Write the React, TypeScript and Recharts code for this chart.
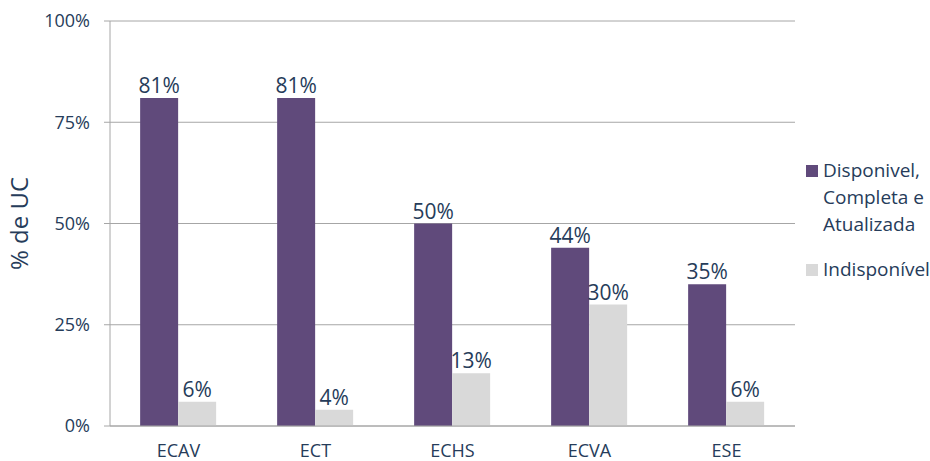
import { BarChart, Bar, XAxis, YAxis, CartesianGrid, Legend, LabelList } from 'recharts';

const categories = ['ECAV', 'ECT', 'ECHS', 'ECVA', 'ESE'];
const disponivel = [81, 81, 50, 44, 35];
const indisponivel = [6, 4, 13, 30, 6];
const yTicks = [0, 25, 50, 75, 100];

const PURPLE = '#604a7b';
const GRAY = '#d9d9d9';
const TEXT = '#263c5a';
const LINE = '#a6a6a6';
const FONT = '"Open Sans", sans-serif';

const data = categories.map((name, i) => ({
  name,
  disponivel: disponivel[i],
  indisponivel: indisponivel[i],
}));

function renderLegend() {
  const items = [
    { color: PURPLE, lines: ['Disponivel,', 'Completa e', 'Atualizada'] },
    { color: GRAY, lines: ['Indisponível'] },
  ];
  return (
    <div style={{ fontFamily: FONT, fontSize: 19, color: TEXT, lineHeight: '27px' }}>
      {items.map((item, i) => (
        <div key={i} style={{ display: 'flex', alignItems: 'flex-start', marginBottom: i === 0 ? 18 : 0 }}>
          <span
            style={{
              display: 'inline-block',
              width: 12,
              height: 12,
              background: item.color,
              marginTop: 8,
              marginRight: 5,
              flexShrink: 0,
            }}
          />
          <div>
            {item.lines.map((l) => (
              <div key={l} style={{ whiteSpace: 'nowrap' }}>{l}</div>
            ))}
          </div>
        </div>
      ))}
    </div>
  );
}

export default function App() {
  return (
    <div style={{ position: 'absolute', left: 0, top: 0, width: 930, height: 461, background: '#fff' }}>
      <BarChart
        width={930}
        height={461}
        data={data}
        margin={{ top: 21, right: 135, bottom: 0, left: 0 }}
        barCategoryGap="22%"
        barGap={0}
      >
        <CartesianGrid vertical={false} stroke={LINE} strokeWidth={1} />
        <XAxis
          dataKey="name"
          height={35}
          tickLine={false}
          tickSize={0}
          tickMargin={18}
          axisLine={{ stroke: LINE }}
          tick={{ fill: TEXT, fontSize: 18, fontFamily: FONT }}
        />
        <YAxis
          width={110}
          domain={[0, 100]}
          ticks={yTicks}
          tickFormatter={(v: number) => `${v}%`}
          tickSize={6}
          tickMargin={14}
          tickLine={{ stroke: LINE }}
          axisLine={{ stroke: LINE }}
          tick={{ fill: TEXT, fontSize: 18, fontFamily: FONT }}
          label={{
            value: '% de UC',
            angle: -90,
            position: 'insideLeft',
            offset: 19,
            style: { fill: TEXT, fontSize: 24, fontFamily: FONT, textAnchor: 'middle' },
          }}
        />
        <Legend
          layout="vertical"
          align="center"
          verticalAlign="middle"
          content={renderLegend}
          wrapperStyle={{ left: 806, top: 157, width: 124 }}
        />
        <Bar dataKey="disponivel" name="Disponivel, Completa e Atualizada" fill={PURPLE} isAnimationActive={false}>
          <LabelList
            dataKey="disponivel"
            position="top"
            formatter={(v: number) => `${v}%`}
            style={{ fill: TEXT, fontSize: 21, fontFamily: FONT }}
          />
        </Bar>
        <Bar dataKey="indisponivel" name="Indisponível" fill={GRAY} isAnimationActive={false}>
          <LabelList
            dataKey="indisponivel"
            position="top"
            formatter={(v: number) => `${v}%`}
            style={{ fill: TEXT, fontSize: 21, fontFamily: FONT }}
          />
        </Bar>
      </BarChart>
    </div>
  );
}
